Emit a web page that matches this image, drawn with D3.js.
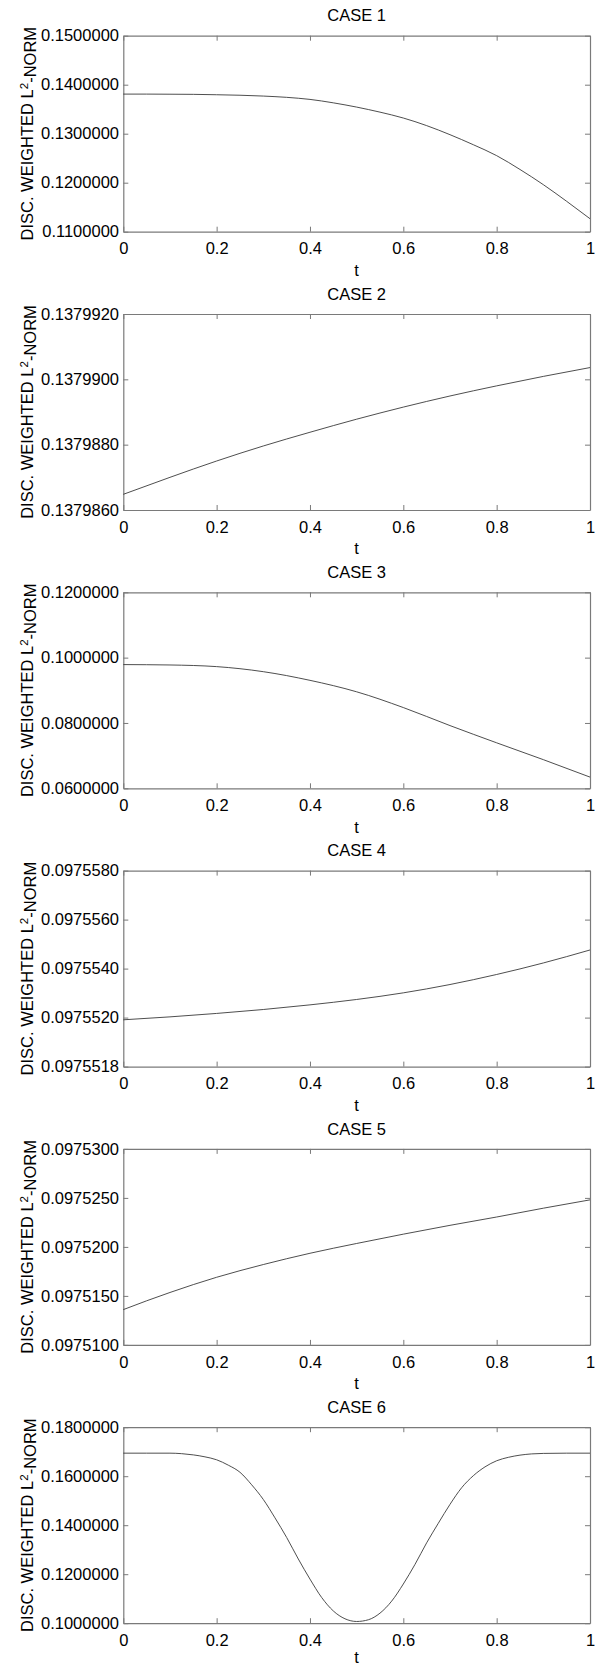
<!DOCTYPE html>
<html>
<head>
<meta charset="utf-8">
<script src="https://cdn.jsdelivr.net/npm/d3@7"></script>
<style>
  html, body { margin: 0; padding: 0; background: #fff; }
  svg { display: block; }
  text { font-family: "Liberation Sans", Arial, Helvetica, sans-serif; }
</style>
</head>
<body>
<svg id="chart" width="595" height="1666"></svg>
<script>
// ---------- DATA ----------
const caseTitles = ["CASE 1", "CASE 2", "CASE 3", "CASE 4", "CASE 5", "CASE 6"];
const xTicks = [0, 0.2, 0.4, 0.6, 0.8, 1];
const xTickLabels = ["0", "0.2", "0.4", "0.6", "0.8", "1"];

// Case 1
const t1 = [0, 0.05, 0.1, 0.15, 0.2, 0.25, 0.3, 0.35, 0.4, 0.45, 0.5, 0.55, 0.6, 0.65, 0.7, 0.75, 0.8, 0.85, 0.9, 0.95, 1];
const v1 = [0.13808, 0.13808, 0.13806, 0.13803, 0.13795, 0.13785, 0.13768, 0.13742, 0.13700, 0.13630, 0.13543, 0.13440, 0.13320, 0.13165, 0.12980, 0.12775, 0.12552, 0.12270, 0.11960, 0.11620, 0.11265];
const yDom1 = [0.11, 0.15];
const yTicks1 = [0.11, 0.12, 0.13, 0.14, 0.15];
const yLabels1 = ["0.1100000", "0.1200000", "0.1300000", "0.1400000", "0.1500000"];

// Case 2
const t2 = [0, 0.1, 0.2, 0.3, 0.4, 0.5, 0.6, 0.7, 0.8, 0.9, 1];
const v2 = [0.13798648, 0.13798700, 0.13798750, 0.13798796, 0.13798838, 0.13798878, 0.13798915, 0.13798949, 0.13798980, 0.13799009, 0.13799036];
const yDom2 = [0.137986, 0.137992];
const yTicks2 = [0.137986, 0.137988, 0.137990, 0.137992];
const yLabels2 = ["0.1379860", "0.1379880", "0.1379900", "0.1379920"];

// Case 3
const t3 = [0, 0.1, 0.2, 0.3, 0.4, 0.5, 0.6, 0.7, 0.8, 0.9, 1];
const v3 = [0.09787, 0.09775, 0.09725, 0.09570, 0.09305, 0.08954, 0.08472, 0.07920, 0.07392, 0.06877, 0.06343];
const yDom3 = [0.06, 0.12];
const yTicks3 = [0.06, 0.08, 0.10, 0.12];
const yLabels3 = ["0.0600000", "0.0800000", "0.1000000", "0.1200000"];

// Case 4
const t4 = [0, 0.1, 0.2, 0.3, 0.4, 0.5, 0.6, 0.7, 0.8, 0.9, 1];
const v4 = [0.09755191, 0.09755203, 0.09755217, 0.09755233, 0.09755252, 0.09755274, 0.09755301, 0.09755335, 0.09755376, 0.09755423, 0.09755476];
const yDom4 = [0.09755, 0.097558];
const yTicks4 = [0.09755, 0.097552, 0.097554, 0.097556, 0.097558];
const yLabels4 = ["0.0975518", "0.0975520", "0.0975540", "0.0975560", "0.0975580"];

// Case 5
const t5 = [0, 0.05, 0.1, 0.2, 0.3, 0.4, 0.5, 0.6, 0.7, 0.8, 0.9, 1];
const v5 = [0.0975136, 0.0975145, 0.09751535, 0.0975169, 0.0975182, 0.09751935, 0.09752035, 0.0975213, 0.0975222, 0.09752305, 0.09752395, 0.0975248];
const yDom5 = [0.09751, 0.09753];
const yTicks5 = [0.09751, 0.097515, 0.09752, 0.097525, 0.09753];
const yLabels5 = ["0.0975100", "0.0975150", "0.0975200", "0.0975250", "0.0975300"];

// Case 6
const t6 = [0, 0.05, 0.1, 0.125, 0.15, 0.175, 0.2, 0.225, 0.25, 0.275, 0.3, 0.325, 0.35, 0.375, 0.4, 0.425, 0.45, 0.475, 0.5, 0.525, 0.55, 0.575, 0.6, 0.625, 0.65, 0.675, 0.7, 0.725, 0.75, 0.775, 0.8, 0.825, 0.85, 0.875, 0.9, 0.95, 1];
const v6 = [0.1694, 0.1694, 0.1694, 0.1692, 0.1687, 0.1679, 0.1667, 0.1645, 0.1616, 0.1565, 0.1505, 0.1430, 0.1350, 0.1262, 0.1180, 0.1105, 0.1050, 0.1018, 0.1007, 0.1014, 0.1041, 0.1090, 0.1160, 0.1240, 0.1328, 0.1408, 0.1485, 0.1553, 0.1602, 0.1638, 0.1663, 0.1677, 0.1686, 0.1691, 0.1693, 0.1694, 0.1694];
const yDom6 = [0.10, 0.18];
const yTicks6 = [0.10, 0.12, 0.14, 0.16, 0.18];
const yLabels6 = ["0.1000000", "0.1200000", "0.1400000", "0.1600000", "0.1800000"];

const panels = [
  { title: caseTitles[0], t: t1, v: v1, dom: yDom1, ticks: yTicks1, labels: yLabels1 },
  { title: caseTitles[1], t: t2, v: v2, dom: yDom2, ticks: yTicks2, labels: yLabels2 },
  { title: caseTitles[2], t: t3, v: v3, dom: yDom3, ticks: yTicks3, labels: yLabels3 },
  { title: caseTitles[3], t: t4, v: v4, dom: yDom4, ticks: yTicks4, labels: yLabels4 },
  { title: caseTitles[4], t: t5, v: v5, dom: yDom5, ticks: yTicks5, labels: yLabels5 },
  { title: caseTitles[5], t: t6, v: v6, dom: yDom6, ticks: yTicks6, labels: yLabels6 }
];

// ---------- LAYOUT ----------
const FONT = 16.5;
const W = 595, H = 1666;
const left = 123.3, right = 590;
const top0 = 35.7, pitch = 278.3, plotH = 196;
const boxColor = "#7a7a7a";
const lineColor = "#3a3a3a";

const svg = d3.select("#chart");
const x = d3.scaleLinear().domain([0, 1]).range([left, right]);

panels.forEach((p, i) => {
  const top = top0 + pitch * i;
  const bottom = top + plotH;
  const y = d3.scaleLinear().domain(p.dom).range([bottom, top]);
  const g = svg.append("g");

  const labelOf = d => p.labels[p.ticks.indexOf(d)];

  const gb = g.append("g").attr("transform", `translate(0,${bottom})`)
    .call(d3.axisBottom(x).tickValues(xTicks).tickFormat((d, k) => xTickLabels[k])
      .tickSizeInner(-5).tickSizeOuter(0).tickPadding(11));
  const gt = g.append("g").attr("transform", `translate(0,${top})`)
    .call(d3.axisTop(x).tickValues(xTicks).tickFormat("").tickSizeInner(-5).tickSizeOuter(0));
  const gl = g.append("g").attr("transform", `translate(${left},0)`)
    .call(d3.axisLeft(y).tickValues(p.ticks).tickFormat(labelOf)
      .tickSizeInner(-5).tickSizeOuter(0).tickPadding(4.3));
  const gr = g.append("g").attr("transform", `translate(${right},0)`)
    .call(d3.axisRight(y).tickValues(p.ticks).tickFormat("").tickSizeInner(-5).tickSizeOuter(0));

  [gb, gt, gl, gr].forEach(a => {
    a.select(".domain").attr("stroke", boxColor).attr("stroke-width", 1.2);
    a.selectAll(".tick line").attr("stroke", boxColor).attr("stroke-width", 1);
    a.selectAll("text").attr("fill", "#000").style("font-size", FONT + "px")
      .style("font-family", '"Liberation Sans", Arial, Helvetica, sans-serif');
  });

  const line = d3.line()
    .x((d, k) => x(p.t[k]))
    .y(d => y(d))
    .curve(d3.curveMonotoneX);
  g.append("path").datum(p.v)
    .attr("d", line)
    .attr("fill", "none")
    .attr("stroke", lineColor)
    .attr("stroke-width", 0.9);

  g.append("text")
    .attr("x", (left + right) / 2).attr("y", top - 14.4)
    .attr("text-anchor", "middle")
    .style("font-size", FONT + "px")
    .text(p.title);

  g.append("text")
    .attr("x", (left + right) / 2).attr("y", Math.min(bottom + 44.4, H - 3))
    .attr("text-anchor", "middle")
    .style("font-size", FONT + "px")
    .text("t");

  const yl = g.append("text")
    .attr("transform", `translate(33.3,${(top + bottom) / 2}) rotate(-90)`)
    .attr("text-anchor", "middle")
    .style("font-size", FONT + "px");
  yl.append("tspan").text("DISC. WEIGHTED L");
  yl.append("tspan").attr("dy", "-0.45em").style("font-size", (FONT * 0.7) + "px").text("2");
  yl.append("tspan").attr("dy", "0.45em").text("-NORM");
});
</script>
</body>
</html>
